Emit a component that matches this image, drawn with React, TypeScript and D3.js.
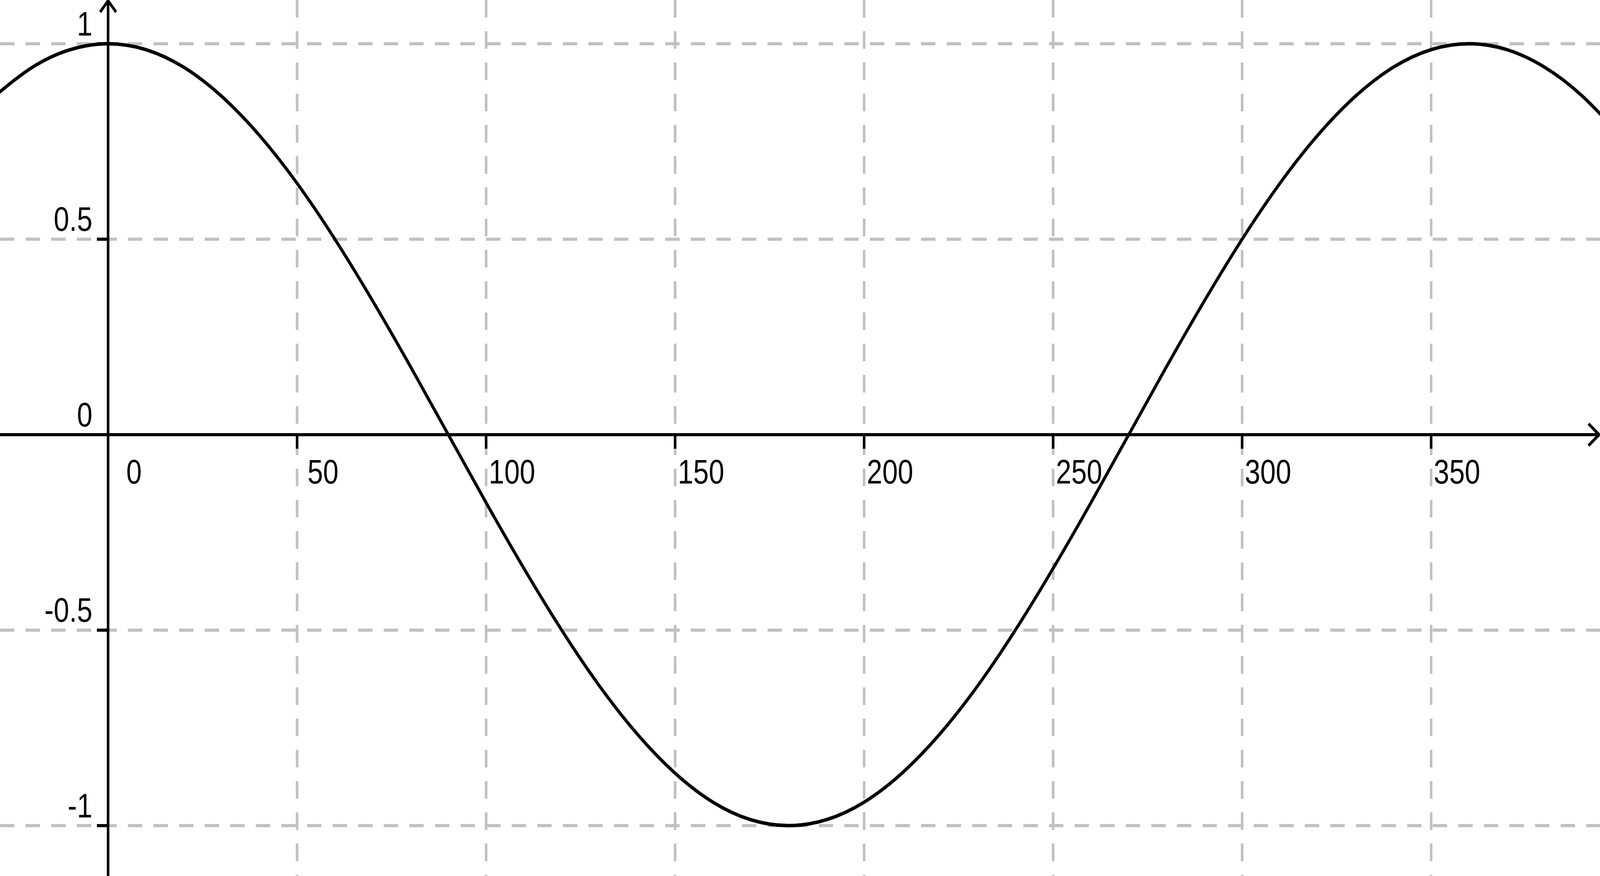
import React, { useEffect, useState } from "react";
import * as d3 from "d3";

// Function samples (x in degrees, y value)
const curveX = [-30, -20, -10, 0, 10, 20, 30, 40, 50, 60, 70, 80, 90, 100, 110, 120, 130, 140, 150, 160, 170, 180, 190, 200, 210, 220, 230, 240, 250, 260, 270, 280, 290, 300, 310, 320, 330, 340, 350, 360, 370, 380, 390, 400];
const curveY = [0.866, 0.94, 0.985, 1.0, 0.985, 0.94, 0.866, 0.766, 0.643, 0.5, 0.342, 0.174, 0.0, -0.174, -0.342, -0.5, -0.643, -0.766, -0.866, -0.94, -0.985, -1.0, -0.985, -0.94, -0.866, -0.766, -0.643, -0.5, -0.342, -0.174, 0.0, 0.174, 0.342, 0.5, 0.643, 0.766, 0.866, 0.94, 0.985, 1.0, 0.985, 0.94, 0.866, 0.766];

const xTicks = [0, 50, 100, 150, 200, 250, 300, 350];
const xTickLabels = ["0", "50", "100", "150", "200", "250", "300", "350"];
const yTicks = [1, 0.5, 0, -0.5, -1];
const yTickLabels = ["1", "0.5", "0", "-0.5", "-1"];

const W = 5003;
const H = 2243;

export default function App() {
  const [size, setSize] = useState<{ w: number; h: number }>({
    w: typeof window !== "undefined" ? window.innerWidth : W,
    h: typeof window !== "undefined" ? window.innerHeight : H,
  });

  useEffect(() => {
    document.body.style.margin = "0";
    document.body.style.overflow = "hidden";
    document.documentElement.style.overflow = "hidden";
    const onResize = () => setSize({ w: window.innerWidth, h: window.innerHeight });
    onResize();
    window.addEventListener("resize", onResize);
    return () => window.removeEventListener("resize", onResize);
  }, []);

  const x = d3.scaleLinear().domain([0, 350]).range([338, 4475]);
  const y = d3.scaleLinear().domain([-1, 1]).range([2114, 112]);

  const pts: [number, number][] = curveX.map((v, i) => [v, curveY[i]]);
  const line = d3
    .line<[number, number]>()
    .x((d) => x(d[0]))
    .y((d) => y(d[1]))
    .curve(d3.curveNatural);

  const x0 = x(0);
  const y0 = y(0);
  const font = "'Liberation Sans', Arial, sans-serif";
  const grid = "#c0c0c0";

  return (
    <svg
      width={size.w}
      height={size.h}
      viewBox={`0 0 ${W} ${H}`}
      preserveAspectRatio="none"
      style={{ position: "absolute", left: 0, top: 0, display: "block", background: "#fff" }}
    >
      <rect x={0} y={0} width={W} height={H} fill="#fff" />
      {/* grid */}
      <g stroke={grid} strokeWidth={8} strokeDasharray="45,35" fill="none">
        {xTicks
          .filter((t) => t !== 0)
          .map((t) => (
            <line key={"gx" + t} x1={x(t)} x2={x(t)} y1={0} y2={H} />
          ))}
        {yTicks
          .filter((t) => t !== 0)
          .map((t) => (
            <line key={"gy" + t} x1={0} x2={W} y1={y(t)} y2={y(t)} />
          ))}
      </g>
      {/* axes */}
      <g stroke="#000" strokeWidth={8} fill="none">
        <line x1={0} x2={W} y1={y0} y2={y0} />
        <line x1={x0} x2={x0} y1={0} y2={H} />
        <path d={`M${x0 - 25},${31} L${x0},${2} L${x0 + 25},${31}`} strokeLinejoin="miter" />
        <path d={`M${W - 3 - 33},${y0 - 28} L${W - 3},${y0} L${W - 3 - 33},${y0 + 28}`} strokeLinejoin="miter" />
        {xTicks
          .filter((t) => t !== 0)
          .map((t) => (
            <line key={"tx" + t} x1={x(t)} x2={x(t)} y1={y0} y2={y0 + 36} />
          ))}
        {yTicks
          .filter((t) => t !== 0)
          .map((t) => (
            <line key={"ty" + t} x1={x0 - 35} x2={x0} y1={y(t)} y2={y(t)} />
          ))}
      </g>
      {/* curve */}
      <path d={line(pts) || ""} fill="none" stroke="#000" strokeWidth={9} strokeLinejoin="round" />
      {/* labels */}
      <g fontFamily={font} fontSize={87} fill="#000">
        {xTicks.map((t, i) => (
          <text key={"lx" + t} x={x(t) + 81} y={y0 + 125} textAnchor="middle">
            {xTickLabels[i]}
          </text>
        ))}
        {yTicks.map((t, i) => (
          <text key={"ly" + t} x={x0 - 49} y={y(t) - 21} textAnchor="end">
            {yTickLabels[i]}
          </text>
        ))}
      </g>
    </svg>
  );
}
